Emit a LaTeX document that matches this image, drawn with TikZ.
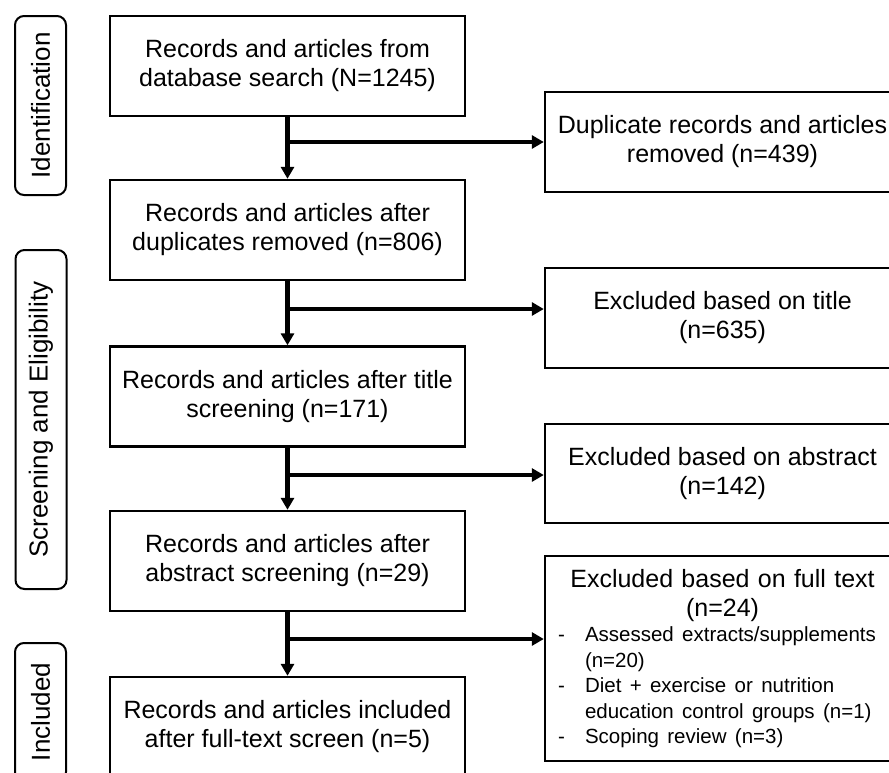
\documentclass[tikz,border=0pt]{standalone}
\usepackage{fontspec}
\setmainfont{Liberation Sans}
\usetikzlibrary{arrows.meta}

\tikzset{
  stagebox/.style={draw, line width=2.4pt, minimum width=355pt, minimum height=100pt,
    inner sep=0pt, align=center, font=\fontsize{25}{29}\selectfont},
  phase/.style={draw, line width=2pt, rounded corners=9pt, rotate=90, minimum height=51pt,
    inner sep=0pt, font=\fontsize{26}{30}\selectfont},
  flow/.style={line width=4.3pt, -{Triangle[length=12pt,width=13pt]}},
}

\begin{document}
\begin{tikzpicture}[x=1pt,y=-1pt]
  \useasboundingbox (0,0) rectangle (889,772);
  \clip (0,0) rectangle (889,772); % рисунок обрезан справа и снизу
  % этапы слева
  \node[phase, minimum width=179pt] (ident) at (40.5,105.5) {Identification};
  \node[phase, minimum width=339pt] (screen) at (41,419.5) {Screening and Eligibility};
  \node[phase, minimum width=138pt] (incl) at (40.5,712) {Included};
  % основной столбец
  \node[stagebox] (recs)  at (287.5,66)    {Records and articles from\\database search (N=1245)};
  \node[stagebox] (dedup) at (287.5,230)   {Records and articles after\\duplicates removed (n=806)};
  \node[stagebox] (title) at (287.5,396.5) {Records and articles after title\\screening (n=171)};
  \node[stagebox] (abstr) at (287.5,561)   {Records and articles after\\abstract screening (n=29)};
  \node[stagebox] (final) at (287.5,727)   {Records and articles included\\after full-text screen (n=5)};
  % исключённые справа
  \node[stagebox] (dupl)    at (722.5,142)   {Duplicate records and articles\\removed (n=439)};
  \node[stagebox] (extitle) at (722.5,318)   {Excluded based on title\\(n=635)};
  \node[stagebox, minimum height=99pt] (exabs) at (722.5,473.5) {Excluded based on abstract\\(n=142)};
  \node[stagebox, minimum height=205pt, text width=335pt, inner xsep=10pt, align=left] (exfull) at (722.5,658.5)
    {{\centering Excluded based on full text\\(n=24)\par}
     {\raggedright\fontsize{20.5}{25.5}\selectfont
      \makebox[30pt][l]{\hspace{3pt}-}Assessed extracts/supplements\\
      \hspace*{30pt}(n=20)\\
      \makebox[30pt][l]{\hspace{3pt}-}Diet + exercise or nutrition\\
      \hspace*{30pt}education control groups (n=1)\\
      \makebox[30pt][l]{\hspace{3pt}-}Scoping review (n=3)\par}};
  % точки ветвления
  \coordinate (j1) at (287.5,142);
  \coordinate (j2) at (287.5,309);
  \coordinate (j3) at (287.5,475);
  \coordinate (j4) at (287.5,639);
  % стрелки
  \draw[flow] (recs) -- (dedup);
  \draw[flow] (dedup) -- (title);
  \draw[flow] (title) -- (abstr);
  \draw[flow] (abstr) -- (final);
  \draw[flow] (j1) -- (j1 -| dupl.west);
  \draw[flow] (j2) -- (j2 -| extitle.west);
  \draw[flow] (j3) -- (j3 -| exabs.west);
  \draw[flow] (j4) -- (j4 -| exfull.west);
\end{tikzpicture}
\end{document}
